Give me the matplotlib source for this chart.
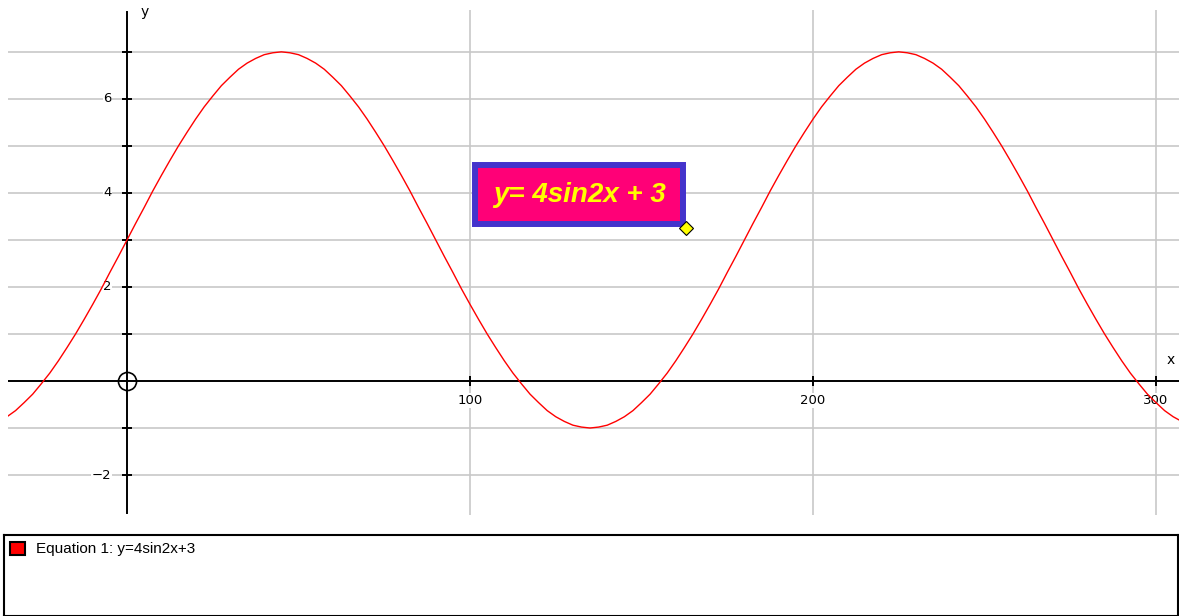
import numpy as np
import matplotlib.pyplot as plt
from matplotlib.patches import Rectangle

x_deg = np.arange(-35, 310.1, 2.5)
y_val = [-0.76, -0.63, -0.46, -0.28, -0.06, 0.17, 0.43, 0.71, 1.00, 1.31,
         1.63, 1.96, 2.31, 2.65,
         # 0 .. 177.5
         3.00, 3.35, 3.69, 4.04, 4.37, 4.69, 5.00, 5.29, 5.57, 5.83, 6.06,
         6.28, 6.46, 6.63, 6.76, 6.86, 6.94, 6.98, 7.00, 6.98, 6.94, 6.86,
         6.76, 6.63, 6.46, 6.28, 6.06, 5.83, 5.57, 5.29, 5.00, 4.69, 4.37,
         4.04, 3.69, 3.35, 3.00, 2.65, 2.31, 1.96, 1.63, 1.31, 1.00, 0.71,
         0.43, 0.17, -0.06, -0.28, -0.46, -0.63, -0.76, -0.86, -0.94, -0.98,
         -1.00, -0.98, -0.94, -0.86, -0.76, -0.63, -0.46, -0.28, -0.06, 0.17,
         0.43, 0.71, 1.00, 1.31, 1.63, 1.96, 2.31, 2.65,
         # 180 .. 310
         3.00, 3.35, 3.69, 4.04, 4.37, 4.69, 5.00, 5.29, 5.57, 5.83, 6.06,
         6.28, 6.46, 6.63, 6.76, 6.86, 6.94, 6.98, 7.00, 6.98, 6.94, 6.86,
         6.76, 6.63, 6.46, 6.28, 6.06, 5.83, 5.57, 5.29, 5.00, 4.69, 4.37,
         4.04, 3.69, 3.35, 3.00, 2.65, 2.31, 1.96, 1.63, 1.31, 1.00, 0.71,
         0.43, 0.17, -0.06, -0.28, -0.46, -0.63, -0.76, -0.86, -0.94]

x_ticks = [100, 200, 300]
y_grid = [-2, -1, 1, 2, 3, 4, 5, 6, 7]
y_labels = [6, 4, 2, -2]
label_text = "y= 4sin2x + 3"
legend_text = "Equation 1: y=4sin2x+3"

W, H = 1179, 616
fig = plt.figure(figsize=(W / 100, H / 100), dpi=100)

# main plot area (pixels 8..1179 wide, 10..515 tall)
ax = fig.add_axes([8 / W, (H - 515) / H, (W - 8) / W, 505 / H])
ax.set_xlim(-34.7, 306.7)
ax.set_ylim(-2.85, 7.89)
ax.axis("off")

for g in y_grid:
    ax.axhline(g, color="#c8c8c8", lw=1.2, zorder=1)
for t in x_ticks:
    ax.axvline(t, color="#c8c8c8", lw=1.2, zorder=1)

ax.axhline(0, color="black", lw=1.4, zorder=2)
ax.plot([0, 0], [-2.8, 7.85], color="black", lw=1.4, zorder=2)

# tick marks
ax.plot([0] * len(y_grid), y_grid, ls="none", marker="_", ms=7, mew=1.4,
        color="black", zorder=3)
ax.plot(x_ticks, [0] * len(x_ticks), ls="none", marker="|", ms=7, mew=1.4,
        color="black", zorder=3)

for v in y_labels:
    s = str(v).replace("-", "\u2212")
    ax.text(-4.5, v, s, ha="right", va="center", fontsize=9.5,
            family="DejaVu Sans", zorder=3,
            bbox=dict(fc="white", ec="none", pad=0.5))
for t in x_ticks:
    ax.text(t, -0.28, str(t), ha="center", va="top", fontsize=9.5,
            family="DejaVu Sans", zorder=3,
            bbox=dict(fc="white", ec="none", pad=0.5))

ax.text(4, 7.85, "y", ha="left", va="center", fontsize=10, family="DejaVu Sans")
ax.text(303, 0.45, "x", ha="left", va="center", fontsize=10, family="DejaVu Sans")

# origin marker
ax.plot([0], [0], marker="o", ms=13, mfc="none", mec="black", mew=1.2, zorder=4)

# the curve
ax.plot(x_deg, y_val, color="#ff0000", lw=1.0, zorder=5)

# label box
ax.add_patch(Rectangle((101.4, 3.33), 60.8, 1.26, facecolor="#ff0077",
                       edgecolor="#4433cc", lw=4.3, zorder=6))
ax.text(131.8, 3.96, label_text, ha="center", va="center", fontsize=20,
        color="#ffff00", fontweight="bold", fontstyle="italic",
        family="Liberation Sans", zorder=7)
ax.plot([163], [3.26], marker="D", ms=7, mfc="#ffff00", mec="black",
        mew=0.8, zorder=8)

# legend panel at the bottom
lax = fig.add_axes([4 / W, 0, (W - 5) / W, (H - 535) / H])
lax.set_xlim(0, W - 5)
lax.set_ylim(H - 535, 0)
lax.set_xticks([])
lax.set_yticks([])
for sp in lax.spines.values():
    sp.set_color("black")
    sp.set_linewidth(1.5)
lax.add_patch(Rectangle((6, 7), 15, 13, facecolor="#ff0000", edgecolor="black",
                        lw=1.5))
lax.text(32, 14, legend_text, ha="left", va="center", fontsize=11,
         family="Liberation Sans")

fig.savefig("out.png", dpi=100)
